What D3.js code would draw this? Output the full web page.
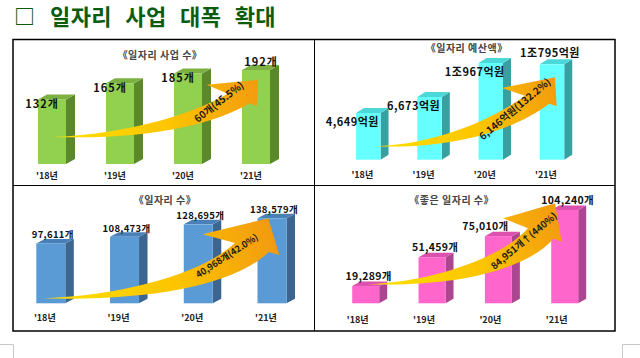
<!DOCTYPE html>
<html><head><meta charset="utf-8">
<script src="https://cdn.jsdelivr.net/npm/d3@7"></script>
<style>body{margin:0;background:#fff}svg{display:block}text{font-family:"Noto Sans CJK KR","Noto Sans",sans-serif}</style>
</head><body><svg id="c" width="640" height="358"></svg>
<script>
// ---- data ----
const years = ["'18년","'19년","'20년","'21년"];
const projectCounts = [132,165,185,192];
const projectLabels = ["132개","165개","185개","192개"];
const budgetValues = [4649,6673,10967,10795];
const budgetLabels = ["4,649억원","6,673억원","1조967억원","1조795억원"];
const jobCounts = [97611,108473,128695,138579];
const jobLabels = ["97,611개","108,473개","128,695개","138,579개"];
const goodJobCounts = [19289,51459,75010,104240];
const goodJobLabels = ["19,289개","51,459개","75,010개","104,240개"];
const panelTitles = ["《일자리 사업 수》","《일자리 예산액》","《일자리 수》","《좋은 일자리 수》"];
const growthTexts = ["60개(45.5%)","6,146억원(132.2%)","40,968개(42.0%)","84,951개↑(440%)"];
const mainTitle = "일자리 사업 대폭 확대";

// ---- layout / style ----
const panels = [
 {values:projectCounts, labels:projectLabels, title:panelTitles[0], growth:growthTexts[0],
  xRange:[52,256], barW:28, dx:9, dy:5, yDomain:[0,192], yRange:[164,70],
  colors:{front:"#92d050", top:"#7cb040", side:"#5c882c"},
  titlePos:[160,58.5], yearY:178.5, yearDx:-5, labelFont:11, labelLS:1,
  labelPos:(i,c,t)=> i<3 ? [c-10,t+9] : [c+5,t-4],
  arrow:{T:[53,137],B1:[206.7,84.7],P:[258.3,79.7],B2:[256.7,106.3]},
  growthPos:[219,102,-38], growthFont:10},
 {values:budgetValues, labels:budgetLabels, title:panelTitles[1], growth:growthTexts[1],
  xRange:[368.3,552], barW:24.5, dx:8, dy:5, yDomain:[-1250,10967], yRange:[159.7,63],
  colors:{front:"#66ffff", top:"#4cd8d8", side:"#38a0a0"},
  titlePos:[466.7,51.5], yearY:178, yearDx:-6, labelFont:11, labelLS:0.5,
  labelPos:(i,c,t)=> i<3 ? [c-16,t+13] : [c-2,t-7],
  arrow:{T:[376.7,146.3],B1:[501.7,88],P:[555,77.3],B2:[556.7,106.3]},
  growthPos:[515,109,-40], growthFont:10},
 {values:jobCounts, labels:jobLabels, title:panelTitles[2], growth:growthTexts[2],
  xRange:[50.8,272], barW:29, dx:8.5, dy:4.5, yDomain:[0,138579], yRange:[303.3,218.3],
  colors:{front:"#5b9bd5", top:"#4a80b8", side:"#3c6590"},
  titlePos:[165,203.5], yearY:321, yearDx:-6, labelFont:9.5, labelLS:0.3,
  labelPos:(i,c,t)=> [c+2,t-5],
  arrow:{T:[43.3,298.3],B1:[202.7,234.3],P:[268.3,218.3],B2:[279.3,255]},
  growthPos:[227,256,-33], growthFont:9},
 {values:goodJobCounts, labels:goodJobLabels, title:panelTitles[3], growth:growthTexts[3],
  xRange:[365.7,564.7], barW:27, dx:8, dy:4.5, yDomain:[0,104240], yRange:[303.3,210],
  colors:{front:"#ff66cc", top:"#dc50ae", side:"#ad4690"},
  titlePos:[451.7,203.5], yearY:323, yearDx:-8, labelFont:10.5, labelLS:0.3,
  labelPos:(i,c,t)=> [i==2 ? c-13 : c+3, t-6],
  arrow:{T:[368.3,284.3],B1:[503.3,218.3],P:[555,203.3],B2:[561.7,241.7]},
  growthPos:[524,241,-40], growthFont:9.5}
];

const svg = d3.select("#c");
svg.append("rect").attr("width",640).attr("height",358).attr("fill","#fff");
const defs = svg.append("defs");

// main title
svg.append("text").attr("x",14).attr("y",24).attr("font-size",21).attr("fill","#0d5c0d")
  .attr("font-weight","bold").text("□");
svg.append("text").attr("x",50).attr("y",25).attr("font-size",22).attr("fill","#0d5c0d")
  .attr("font-weight","bold").attr("letter-spacing",0.4).attr("word-spacing",8).text(mainTitle);

function arrowPath(a){
  const [Tx,Ty]=a.T, B1=a.B1, B2=a.B2, P=a.P;
  const mid=[(B1[0]+B2[0])/2,(B1[1]+B2[1])/2];
  let ux=P[0]-mid[0], uy=P[1]-mid[1]; const ul=Math.hypot(ux,uy); ux/=ul; uy/=ul;
  const lerp=t=>[B1[0]+t*(B2[0]-B1[0]), B1[1]+t*(B2[1]-B1[1])];
  const Hup=lerp(0.42), Hlow=lerp(0.86);
  const Lu=0.2*Math.hypot(Hup[0]-Tx,Hup[1]-Ty), Ll=0.2*Math.hypot(Hlow[0]-Tx,Hlow[1]-Ty);
  const p=d3.path();
  p.moveTo(Tx,Ty);
  p.bezierCurveTo(Tx+0.45*(Hup[0]-Tx), Ty-3, Hup[0]-ux*Lu, Hup[1]-uy*Lu, Hup[0], Hup[1]);
  p.lineTo(B1[0],B1[1]); p.lineTo(P[0],P[1]); p.lineTo(B2[0],B2[1]); p.lineTo(Hlow[0],Hlow[1]);
  p.bezierCurveTo(Hlow[0]-ux*Ll, Hlow[1]-uy*Ll, Tx+0.5*(Hlow[0]-Tx), Ty+3, Tx, Ty);
  p.closePath();
  return p.toString();
}

panels.forEach((pn,k)=>{
  const g = svg.append("g");
  const x = d3.scalePoint().domain(years).range(pn.xRange);
  const y = d3.scaleLinear().domain(pn.yDomain).range(pn.yRange);
  const base = pn.yRange[0];
  const w = pn.barW, dx = pn.dx, dy = pn.dy;

  g.append("text").attr("x",pn.titlePos[0]).attr("y",pn.titlePos[1]).attr("text-anchor","middle")
    .attr("font-size",10).attr("font-weight","bold").attr("fill","#444").attr("letter-spacing",0.5).text(pn.title);

  const bars = g.selectAll("g.bar").data(pn.values).join("g").attr("class","bar");
  bars.append("path").attr("fill",pn.colors.side).attr("d",(v,i)=>{
    const x1=x(years[i])+w/2, t=y(v);
    return `M${x1},${t}L${x1+dx},${t-dy}L${x1+dx},${base-dy}L${x1},${base}Z`;});
  bars.append("path").attr("fill",pn.colors.top).attr("d",(v,i)=>{
    const x0=x(years[i])-w/2, x1=x0+w, t=y(v);
    return `M${x0},${t}L${x0+dx},${t-dy}L${x1+dx},${t-dy}L${x1},${t}Z`;});
  bars.append("rect").attr("fill",pn.colors.front)
    .attr("x",(v,i)=>x(years[i])-w/2).attr("y",v=>y(v)).attr("width",w).attr("height",v=>base-y(v));

  g.selectAll("text.yr").data(years).join("text").attr("class","yr")
    .attr("x",d=>x(d)+pn.yearDx).attr("y",pn.yearY).attr("text-anchor","middle")
    .attr("font-size",9).attr("font-weight","bold").attr("fill","#222").text(d=>d);

  // arrow
  const gid="grad"+k;
  const lg=defs.append("linearGradient").attr("id",gid).attr("gradientUnits","userSpaceOnUse")
    .attr("x1",pn.arrow.T[0]).attr("y1",pn.arrow.T[1]).attr("x2",pn.arrow.P[0]).attr("y2",pn.arrow.P[1]);
  lg.append("stop").attr("offset",0).attr("stop-color","#ffe000");
  lg.append("stop").attr("offset",0.55).attr("stop-color","#fcc400");
  lg.append("stop").attr("offset",1).attr("stop-color","#f29a10");
  g.append("path").attr("d",arrowPath(pn.arrow)).attr("fill",`url(#${gid})`);

  g.append("text").attr("transform",`translate(${pn.growthPos[0]},${pn.growthPos[1]}) rotate(${pn.growthPos[2]})`)
    .attr("text-anchor","middle").attr("dy","0.35em").attr("font-size",pn.growthFont).attr("font-weight","bold")
    .attr("fill","#1a1a1a").text(pn.growth);

  g.selectAll("text.lbl").data(pn.labels).join("text").attr("class","lbl")
    .each(function(d,i){
      const pos = pn.labelPos(i, x(years[i]), y(pn.values[i]));
      d3.select(this).attr("x",pos[0]).attr("y",pos[1]);
    })
    .attr("text-anchor","middle").attr("font-size",pn.labelFont).attr("font-weight","bold")
    .attr("letter-spacing",pn.labelLS).attr("fill","#111").text(d=>d);
});

// frame
svg.append("rect").attr("x",13).attr("y",39.5).attr("width",602).attr("height",291.5)
  .attr("fill","none").attr("stroke","#000").attr("stroke-width",1.5);
svg.append("line").attr("x1",314.5).attr("x2",314.5).attr("y1",39.5).attr("y2",331).attr("stroke","#000").attr("stroke-width",1);
svg.append("line").attr("x1",13).attr("x2",615).attr("y1",185.5).attr("y2",185.5).attr("stroke","#000").attr("stroke-width",1);
// page corner marks
svg.append("path").attr("d","M0,344.5H13.5V358M640,344.5H622.5V358").attr("fill","none").attr("stroke","#c8c8c8");
</script></body></html>
